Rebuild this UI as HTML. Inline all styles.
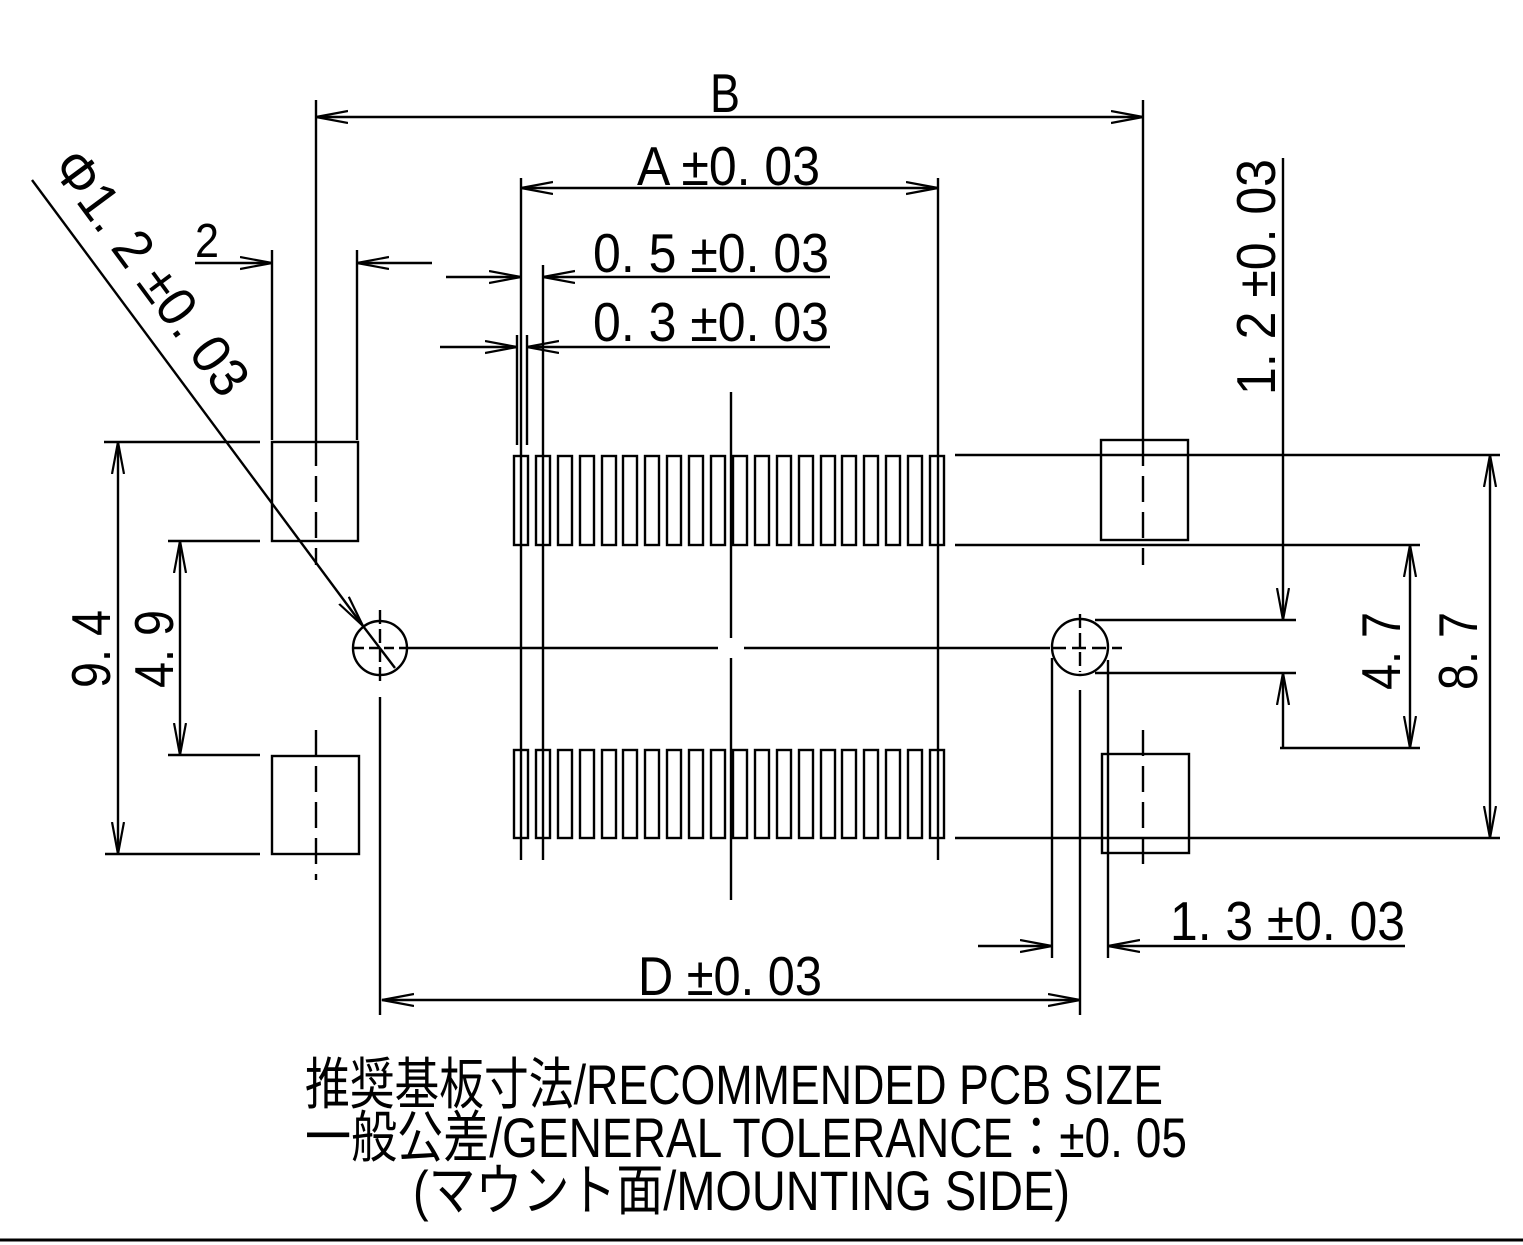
<!DOCTYPE html>
<html><head><meta charset="utf-8"><style>
html,body{margin:0;padding:0;background:#fff;}
svg{display:block;}
text{font-family:"Liberation Sans","Noto Sans CJK JP",sans-serif;fill:#000;}
</style></head><body>
<svg width="1523" height="1245" viewBox="0 0 1523 1245" xmlns="http://www.w3.org/2000/svg">
<defs>
<marker id="a" markerUnits="userSpaceOnUse" markerWidth="34" markerHeight="16" refX="32" refY="7" orient="auto-start-reverse">
<path d="M0,1 L32,7 L0,13" fill="none" stroke="#000" stroke-width="2.2"/>
</marker>
</defs>
<g stroke="#000" stroke-width="2.4" fill="none">
<line x1="316" y1="117" x2="1143" y2="117" marker-start="url(#a)" marker-end="url(#a)"/>
<line x1="316" y1="100" x2="316" y2="440"/>
<line x1="1143" y1="100" x2="1143" y2="440"/>
<line x1="521" y1="188" x2="938" y2="188" marker-start="url(#a)" marker-end="url(#a)"/>
<line x1="521" y1="178" x2="521" y2="860"/>
<line x1="938" y1="178" x2="938" y2="860"/>
<line x1="543" y1="265" x2="543" y2="860"/>
<line x1="517" y1="335" x2="517" y2="445"/>
<line x1="527" y1="335" x2="527" y2="445"/>
<line x1="446" y1="277" x2="521" y2="277" marker-end="url(#a)"/>
<line x1="830" y1="277" x2="543" y2="277" marker-end="url(#a)"/>
<line x1="440" y1="347" x2="517" y2="347" marker-end="url(#a)"/>
<line x1="830" y1="347" x2="527" y2="347" marker-end="url(#a)"/>
<line x1="195" y1="263" x2="272" y2="263" marker-end="url(#a)"/>
<line x1="432" y1="263" x2="357" y2="263" marker-end="url(#a)"/>
<line x1="272" y1="250" x2="272" y2="440"/>
<line x1="357" y1="250" x2="357" y2="440"/>
<rect x="272" y="442" width="86" height="99"/>
<rect x="272" y="756" width="87" height="98"/>
<rect x="1101" y="440" width="87" height="100"/>
<rect x="1102" y="754" width="87" height="99"/>
<line x1="316" y1="440" x2="316" y2="565" stroke-dasharray="26,10"/>
<line x1="316" y1="730" x2="316" y2="880" stroke-dasharray="26,10"/>
<line x1="1143" y1="440" x2="1143" y2="565" stroke-dasharray="26,10"/>
<line x1="1143" y1="730" x2="1143" y2="870" stroke-dasharray="26,10"/>
<g>
<rect x="514" y="456" width="14" height="89"/><rect x="536" y="456" width="14" height="89"/><rect x="558" y="456" width="14" height="89"/><rect x="580" y="456" width="14" height="89"/><rect x="602" y="456" width="14" height="89"/><rect x="623" y="456" width="14" height="89"/><rect x="645" y="456" width="14" height="89"/><rect x="667" y="456" width="14" height="89"/><rect x="689" y="456" width="14" height="89"/><rect x="711" y="456" width="14" height="89"/><rect x="733" y="456" width="14" height="89"/><rect x="755" y="456" width="14" height="89"/><rect x="777" y="456" width="14" height="89"/><rect x="799" y="456" width="14" height="89"/><rect x="821" y="456" width="14" height="89"/><rect x="842" y="456" width="14" height="89"/><rect x="864" y="456" width="14" height="89"/><rect x="886" y="456" width="14" height="89"/><rect x="908" y="456" width="14" height="89"/><rect x="930" y="456" width="14" height="89"/>
<rect x="514" y="750" width="14" height="88"/><rect x="536" y="750" width="14" height="88"/><rect x="558" y="750" width="14" height="88"/><rect x="580" y="750" width="14" height="88"/><rect x="602" y="750" width="14" height="88"/><rect x="623" y="750" width="14" height="88"/><rect x="645" y="750" width="14" height="88"/><rect x="667" y="750" width="14" height="88"/><rect x="689" y="750" width="14" height="88"/><rect x="711" y="750" width="14" height="88"/><rect x="733" y="750" width="14" height="88"/><rect x="755" y="750" width="14" height="88"/><rect x="777" y="750" width="14" height="88"/><rect x="799" y="750" width="14" height="88"/><rect x="821" y="750" width="14" height="88"/><rect x="842" y="750" width="14" height="88"/><rect x="864" y="750" width="14" height="88"/><rect x="886" y="750" width="14" height="88"/><rect x="908" y="750" width="14" height="88"/><rect x="930" y="750" width="14" height="88"/>
</g>
<line x1="731" y1="392" x2="731" y2="638"/>
<line x1="731" y1="658" x2="731" y2="900"/>
<line x1="408" y1="648" x2="718" y2="648"/>
<line x1="744" y1="648" x2="1050" y2="648"/>
<line x1="354" y1="648" x2="406" y2="648" stroke-dasharray="10,5"/>
<line x1="1052" y1="648" x2="1122" y2="648" stroke-dasharray="14,6"/>
<line x1="380" y1="610" x2="380" y2="685" stroke-dasharray="14,5"/>
<line x1="1080" y1="614" x2="1080" y2="672" stroke-dasharray="14,5"/>
<circle cx="380" cy="648" r="27"/>
<circle cx="1080" cy="647" r="28"/>
<line x1="32" y1="180" x2="363" y2="626" marker-end="url(#a)"/>
<line x1="363" y1="626" x2="395" y2="668"/>
<line x1="104" y1="442" x2="260" y2="442"/>
<line x1="105" y1="854" x2="260" y2="854"/>
<line x1="168" y1="541" x2="260" y2="541"/>
<line x1="168" y1="755" x2="260" y2="755"/>
<line x1="118" y1="442" x2="118" y2="854" marker-start="url(#a)" marker-end="url(#a)"/>
<line x1="180" y1="541" x2="180" y2="755" marker-start="url(#a)" marker-end="url(#a)"/>
<line x1="955" y1="455" x2="1500" y2="455"/>
<line x1="955" y1="545" x2="1420" y2="545"/>
<line x1="1280" y1="748" x2="1420" y2="748"/>
<line x1="955" y1="838" x2="1500" y2="838"/>
<line x1="1095" y1="620" x2="1296" y2="620"/>
<line x1="1095" y1="673" x2="1296" y2="673"/>
<line x1="1490" y1="455" x2="1490" y2="838" marker-start="url(#a)" marker-end="url(#a)"/>
<line x1="1410" y1="545" x2="1410" y2="748" marker-start="url(#a)" marker-end="url(#a)"/>
<line x1="1283" y1="158" x2="1283" y2="620" marker-end="url(#a)"/>
<line x1="1283" y1="748" x2="1283" y2="673" marker-end="url(#a)"/>
<line x1="1052" y1="658" x2="1052" y2="958"/>
<line x1="1108" y1="660" x2="1108" y2="958"/>
<line x1="1080" y1="690" x2="1080" y2="1015"/>
<line x1="978" y1="946" x2="1052" y2="946" marker-end="url(#a)"/>
<line x1="1405" y1="946" x2="1108" y2="946" marker-end="url(#a)"/>
<line x1="380" y1="697" x2="380" y2="1015"/>
<line x1="382" y1="1000" x2="1080" y2="1000" marker-start="url(#a)" marker-end="url(#a)"/>
</g>
<line x1="0" y1="1240" x2="1523" y2="1240" stroke="#000" stroke-width="3"/>
<g font-size="55">
<text x="710" y="112" textLength="30" lengthAdjust="spacingAndGlyphs">B</text>
<text x="637" y="185" textLength="183" lengthAdjust="spacingAndGlyphs">A  ±0. 03</text>
<text x="593" y="272" textLength="236" lengthAdjust="spacingAndGlyphs">0. 5  ±0. 03</text>
<text x="593" y="341" textLength="236" lengthAdjust="spacingAndGlyphs">0. 3  ±0. 03</text>
<text x="1170" y="940" textLength="235" lengthAdjust="spacingAndGlyphs">1. 3  ±0. 03</text>
<text x="638" y="995" textLength="184" lengthAdjust="spacingAndGlyphs">D  ±0. 03</text>
<text transform="translate(110,688) rotate(-90)" textLength="78" lengthAdjust="spacingAndGlyphs">9. 4</text>
<text transform="translate(173,688) rotate(-90)" textLength="78" lengthAdjust="spacingAndGlyphs">4. 9</text>
<text transform="translate(1400,690) rotate(-90)" textLength="78" lengthAdjust="spacingAndGlyphs">4. 7</text>
<text transform="translate(1477,690) rotate(-90)" textLength="78" lengthAdjust="spacingAndGlyphs">8. 7</text>
<text transform="translate(1275,395) rotate(-90)" textLength="236" lengthAdjust="spacingAndGlyphs">1. 2  ±0. 03</text>
<text transform="translate(50,167) rotate(53.6)" textLength="290" lengthAdjust="spacingAndGlyphs">Φ1. 2  ±0. 03</text>
</g>
<text x="195" y="257" font-size="48" textLength="24" lengthAdjust="spacingAndGlyphs">2</text>
<g font-size="56">
<text x="305" y="1104" textLength="858" lengthAdjust="spacingAndGlyphs">推奨基板寸法/RECOMMENDED PCB SIZE</text>
<text x="305" y="1157" textLength="882" lengthAdjust="spacingAndGlyphs">一般公差/GENERAL TOLERANCE：±0. 05</text>
<text x="413" y="1210" textLength="657" lengthAdjust="spacingAndGlyphs">(マウント面/MOUNTING SIDE)</text>
</g>
</svg>
</body></html>
